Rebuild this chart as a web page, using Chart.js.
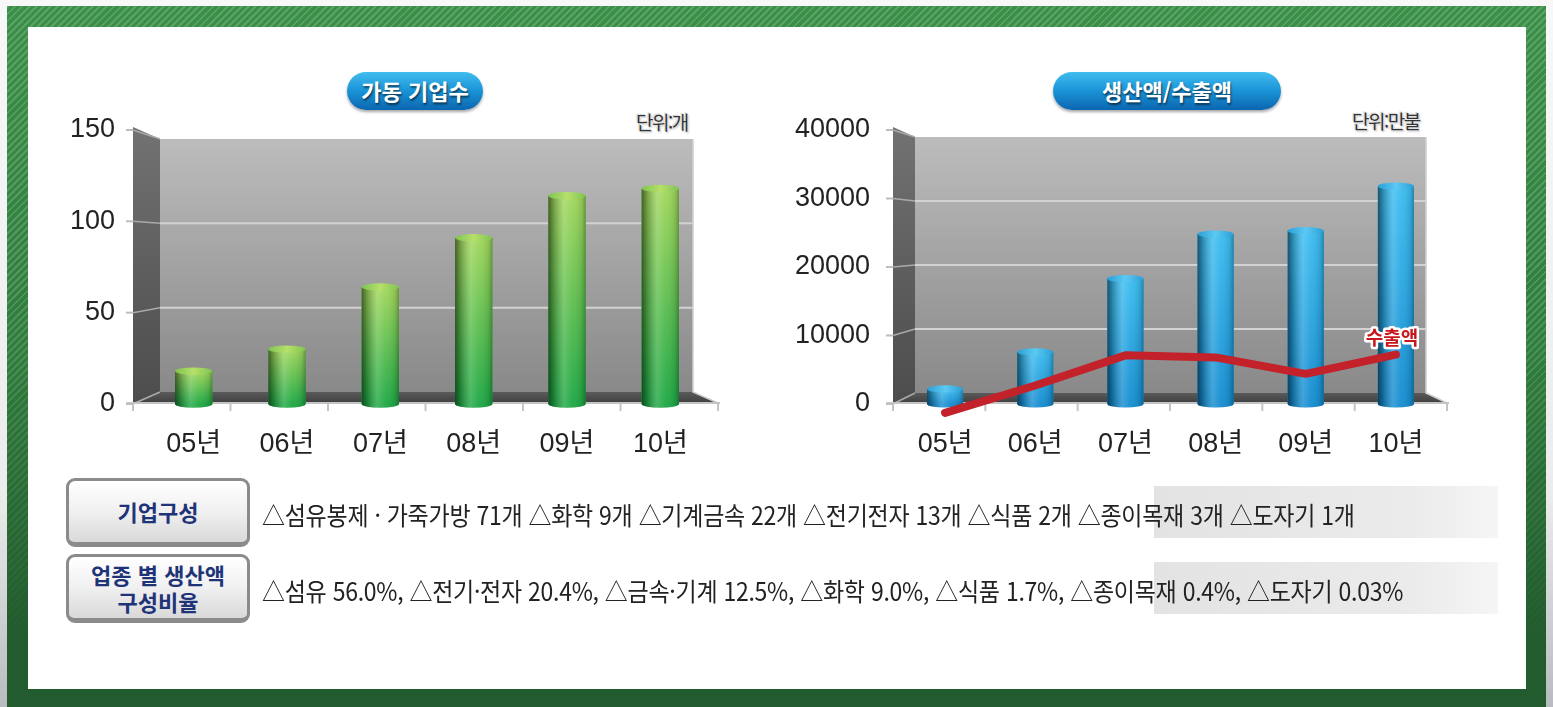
<!DOCTYPE html>
<html lang="ko">
<head>
<meta charset="utf-8">
<title>가동 기업수 · 생산액/수출액</title>
<script src="https://cdn.jsdelivr.net/npm/chart.js@4.4.1/dist/chart.umd.min.js"></script>
<style>
html, body { margin: 0; padding: 0; }
body {
    width: 1553px; height: 707px; overflow: hidden; position: relative;
    background: linear-gradient(#f8f8f8, #ececec 70%, #b7bcc0);
    font-family: 'Noto Sans CJK KR', sans-serif;
}
#frame {
    position: absolute; left: 7px; top: 6px; width: 1539px; height: 701px;
    background: linear-gradient(#3b9048, #2f7c3c 50%, #225b2d 90%);
}
#stripes {
    position: absolute; left: 7px; top: 6px; width: 1539px; height: 701px;
    background: repeating-linear-gradient(135deg, rgba(255,255,255,0.17) 0 2px, rgba(0,0,0,0) 2px 5px);
    -webkit-mask-image: linear-gradient(#000, #000 40%, rgba(0,0,0,0) 92%);
    mask-image: linear-gradient(#000, #000 40%, rgba(0,0,0,0) 92%);
}
#panel { position: absolute; left: 28px; top: 27px; width: 1498px; height: 662px; background: #fff; }
canvas { position: absolute; }
.pill {
    position: absolute; height: 38px; line-height: 37px; border-radius: 19px;
    background: linear-gradient(#41bdf0, #1a93d6 50%, #0b66b0);
    box-shadow: 0 2px 3px rgba(0,0,0,0.35);
    color: #fff; font-weight: bold; font-size: 22px; text-align: center;
    text-shadow: 1px 2px 2px rgba(0,0,0,0.55);
}
.unit {
    position: absolute; font-size: 19px; color: #333; letter-spacing: -1.5px;
    text-shadow: 0 0 2px #fff, 0 0 3px #fff, 1px 1px 2px #999, -1px -1px 1px #bbb;
}
.key {
    position: absolute; left: 66px; width: 178px; height: 61px;
    border: 3px solid #8b8b8b; border-bottom-width: 5px; border-radius: 9px;
    background: linear-gradient(#ffffff, #f0f0f0 50%, #d9d9d9);
    color: #1f3478; font-weight: bold; font-size: 22px; line-height: 27px;
    display: flex; align-items: center; justify-content: center; text-align: center;
}
.band {
    position: absolute; left: 1154px; width: 344px; height: 52px;
    background: linear-gradient(to right, #e3e3e3, #ebebeb 75%, #f5f5f5);
}
.row {
    position: absolute; left: 262px; font-size: 25px; color: #222; white-space: nowrap;
    transform: scaleX(0.92); transform-origin: left center; letter-spacing: -0.3px;
}
</style>
</head>
<body>
<div id="frame"></div>
<div id="stripes"></div>
<div id="panel"></div>

<div class="pill" style="left:347px; top:72px; width:136px;">가동 기업수</div>
<div class="pill" style="left:1053px; top:72px; width:228px;">생산액/수출액</div>
<div class="unit" style="left:636px; top:108px;">단위:개</div>
<div class="unit" style="left:1352px; top:107px;">단위:만불</div>

<canvas id="chartEmpresas" width="700" height="380" style="left:40px; top:80px;"></canvas>
<canvas id="chartValores" width="700" height="380" style="left:790px; top:80px;"></canvas>

<div class="band" style="top:486px;"></div>
<div class="band" style="top:562px;"></div>
<div class="key" style="top:478px;">기업구성</div>
<div class="key" style="top:554px;">업종 별 생산액<br>구성비율</div>
<div class="row" style="top:496px;">△섬유봉제 · 가죽가방 71개 △화학 9개 △기계금속 22개 △전기전자 13개 △식품 2개 △종이목재 3개 △도자기 1개</div>
<div class="row" style="top:572px;">△섬유 56.0%, △전기·전자 20.4%, △금속·기계 12.5%, △화학 9.0%, △식품 1.7%, △종이목재 0.4%, △도자기 0.03%</div>

<script>
const anos = ['05년', '06년', '07년', '08년', '09년', '10년'];
const empresas = [18, 30, 64, 91, 114, 118];
const ticksEmpresas = [0, 50, 100, 150];
const producao = [2200, 7600, 18300, 24800, 25300, 31800];
const exportacao = [-1300, 2700, 7100, 6800, 4400, 7200];
const ticksValores = [0, 10000, 20000, 30000, 40000];
const rotuloExportacao = '수출액';

const fonteEixo = { family: "'Liberation Sans', 'Noto Sans CJK KR', sans-serif", size: 27 };

// parede, chao e grade em "3D" desenhados a partir das escalas
const moldura3d = {
    id: 'moldura3d',
    beforeDatasetsDraw(chart, args, opts) {
        const { ctx, chartArea: a } = chart;
        const y = chart.scales.y;
        const fl = a.left + opts.fl, bl = a.left + opts.bl, br = a.right + opts.br, fr = a.right + opts.fr;
        const ft = a.top - 3, bt = a.top + opts.bt, bb = a.bottom - opts.bb, fb = a.bottom - 1;
        ctx.save();

        // parede lateral
        let g = ctx.createLinearGradient(0, ft, 0, fb);
        g.addColorStop(0, '#727272');
        g.addColorStop(1, '#4c4c4c');
        ctx.fillStyle = g;
        ctx.beginPath();
        ctx.moveTo(fl, ft); ctx.lineTo(bl, bt); ctx.lineTo(bl, bb); ctx.lineTo(fl, fb); ctx.closePath();
        ctx.fill();

        // parede do fundo
        g = ctx.createLinearGradient(0, bt, 0, bb);
        g.addColorStop(0, '#bcbcbc');
        g.addColorStop(1, '#898989');
        ctx.fillStyle = g;
        ctx.fillRect(bl, bt, br - bl, bb - bt);

        // chao
        g = ctx.createLinearGradient(0, bb, 0, fb);
        g.addColorStop(0, '#5a5a5a');
        g.addColorStop(1, '#404040');
        ctx.fillStyle = g;
        ctx.beginPath();
        ctx.moveTo(bl, bb); ctx.lineTo(br, bb); ctx.lineTo(fr, fb); ctx.lineTo(fl, fb); ctx.closePath();
        ctx.fill();

        // linhas de grade
        y.ticks.forEach(t => {
            const yf = y.getPixelForValue(t.value);
            const k = (a.bottom - yf) / (a.bottom - a.top);
            const yb = bb - k * (bb - bt);
            if (t.value !== 0 && k < 0.99) {
                ctx.strokeStyle = '#d2d2d2';
                ctx.lineWidth = 2;
                ctx.beginPath(); ctx.moveTo(bl, yb); ctx.lineTo(br, yb); ctx.stroke();
            }
            ctx.strokeStyle = '#a9a9a9';
            ctx.lineWidth = 1.5;
            ctx.beginPath(); ctx.moveTo(fl, yf); ctx.lineTo(bl, yb); ctx.stroke();
            ctx.strokeStyle = '#bdbdbd';
            ctx.lineWidth = 2;
            ctx.beginPath(); ctx.moveTo(fl - 7, yf); ctx.lineTo(fl, yf); ctx.stroke();
        });

        // borda direita da parede
        ctx.strokeStyle = '#cfcfcf';
        ctx.lineWidth = 1.5;
        ctx.beginPath(); ctx.moveTo(br, bt); ctx.lineTo(br, bb); ctx.lineTo(fr, fb); ctx.stroke();

        // eixo x da frente
        ctx.strokeStyle = '#c4c4c4';
        ctx.lineWidth = 2;
        ctx.beginPath(); ctx.moveTo(fl - 7, fb); ctx.lineTo(fr + 2, fb); ctx.stroke();
        const n = chart.scales.x.ticks.length;
        for (let i = 0; i <= n; i++) {
            const px = fl + i * (fr - fl) / n;
            ctx.beginPath(); ctx.moveTo(px, fb); ctx.lineTo(px, fb + 8); ctx.stroke();
        }
        ctx.restore();
    }
};

// barras como cilindros
const cilindros = {
    id: 'cilindros',
    afterDatasetDraw(chart, args, opts) {
        if (args.index !== 0) return;
        const ctx = chart.ctx;
        args.meta.data.forEach(bar => {
            const { x, y, base, width } = bar.getProps(['x', 'y', 'base', 'width'], true);
            const l = x - width / 2, r = x + width / 2, ry = width * 0.1;
            const corpo = () => {
                ctx.beginPath();
                ctx.moveTo(l, y); ctx.lineTo(l, base);
                ctx.ellipse(x, base, width / 2, ry, 0, Math.PI, 0, true);
                ctx.lineTo(r, y); ctx.closePath();
            };
            ctx.save();
            let g = ctx.createLinearGradient(0, y, 0, base);
            g.addColorStop(0, opts.topo);
            g.addColorStop(1, opts.base);
            ctx.fillStyle = g;
            corpo(); ctx.fill();

            g = ctx.createLinearGradient(l, 0, r, 0);
            g.addColorStop(0, 'rgba(0,0,0,0.55)');
            g.addColorStop(0.15, 'rgba(0,0,0,0.25)');
            g.addColorStop(0.42, 'rgba(255,255,255,0.18)');
            g.addColorStop(0.65, 'rgba(255,255,255,0.04)');
            g.addColorStop(0.9, 'rgba(0,0,0,0.1)');
            g.addColorStop(1, 'rgba(0,0,0,0.3)');
            ctx.fillStyle = g;
            corpo(); ctx.fill();

            g = ctx.createLinearGradient(l, 0, r, 0);
            g.addColorStop(0, opts.tampaEscura);
            g.addColorStop(0.5, opts.tampa);
            g.addColorStop(1, opts.tampaEscura);
            ctx.fillStyle = g;
            ctx.beginPath();
            ctx.ellipse(x, y, width / 2, ry, 0, 0, Math.PI * 2);
            ctx.fill();
            ctx.restore();
        });
    }
};

const etiquetaLinha = {
    id: 'etiquetaLinha',
    afterDatasetsDraw(chart) {
        const meta = chart.getDatasetMeta(1);
        const ultimo = meta.data[meta.data.length - 1];
        const ctx = chart.ctx;
        ctx.save();
        ctx.font = "bold 19px 'Noto Sans CJK KR'";
        ctx.textAlign = 'center';
        ctx.textBaseline = 'middle';
        ctx.lineJoin = 'round';
        ctx.lineWidth = 5;
        ctx.strokeStyle = '#fff';
        ctx.strokeText(rotuloExportacao, ultimo.x - 4, ultimo.y - 17);
        ctx.fillStyle = '#c8161d';
        ctx.fillText(rotuloExportacao, ultimo.x - 4, ultimo.y - 17);
        ctx.restore();
    }
};

function eixos(max, lista, larguraY, padY) {
    return {
        x: {
            grid: { display: false, drawTicks: false },
            border: { display: false },
            ticks: { color: '#222', font: fonteEixo, padding: 24 },
            afterFit: s => { s.height = 56; }
        },
        y: {
            min: 0,
            max: max,
            grid: { display: false, drawTicks: false },
            border: { display: false },
            ticks: { color: '#222', font: fonteEixo, padding: padY, callback: v => String(v) },
            afterBuildTicks: s => { s.ticks = lista.map(v => ({ value: v })); },
            afterFit: s => { s.width = larguraY; }
        }
    };
}

const comum = {
    responsive: false,
    animation: false,
    devicePixelRatio: 1,
    events: []
};

new Chart(document.getElementById('chartEmpresas').getContext('2d'), {
    type: 'bar',
    data: {
        labels: anos,
        datasets: [{
            data: empresas,
            backgroundColor: '#27ad48',
            barPercentage: 0.4,
            categoryPercentage: 1
        }]
    },
    options: {
        ...comum,
        layout: { padding: { top: 50, right: 33, bottom: 0, left: 0 } },
        scales: eixos(150, ticksEmpresas, 107, 32),
        plugins: {
            legend: { display: false },
            tooltip: { enabled: false },
            moldura3d: { fl: -14, bl: 13, br: -14, fr: 11, bt: 9, bb: 12 },
            cilindros: { topo: '#a2d75c', base: '#1fa845', tampa: '#b6e06a', tampaEscura: '#7fc452' }
        }
    },
    plugins: [moldura3d, cilindros]
});

new Chart(document.getElementById('chartValores').getContext('2d'), {
    type: 'bar',
    data: {
        labels: anos,
        datasets: [{
            data: producao,
            backgroundColor: '#1a90cf',
            barPercentage: 0.4,
            categoryPercentage: 1,
            order: 1
        }, {
            type: 'line',
            data: exportacao,
            borderColor: '#c3222a',
            borderWidth: 8,
            borderCapStyle: 'round',
            borderJoinStyle: 'round',
            pointRadius: 0,
            tension: 0,
            clip: false,
            order: 0
        }]
    },
    options: {
        ...comum,
        layout: { padding: { top: 50, right: 49, bottom: 0, left: 0 } },
        scales: eixos(40000, ticksValores, 110, 30),
        plugins: {
            legend: { display: false },
            tooltip: { enabled: false },
            moldura3d: { fl: -7, bl: 15, br: -15, fr: 6, bt: 7, bb: 11 },
            cilindros: { topo: '#3cbdf0', base: '#168dd0', tampa: '#5cc9f2', tampaEscura: '#2a9fd8' }
        }
    },
    plugins: [moldura3d, cilindros, etiquetaLinha]
});
</script>
</body>
</html>
